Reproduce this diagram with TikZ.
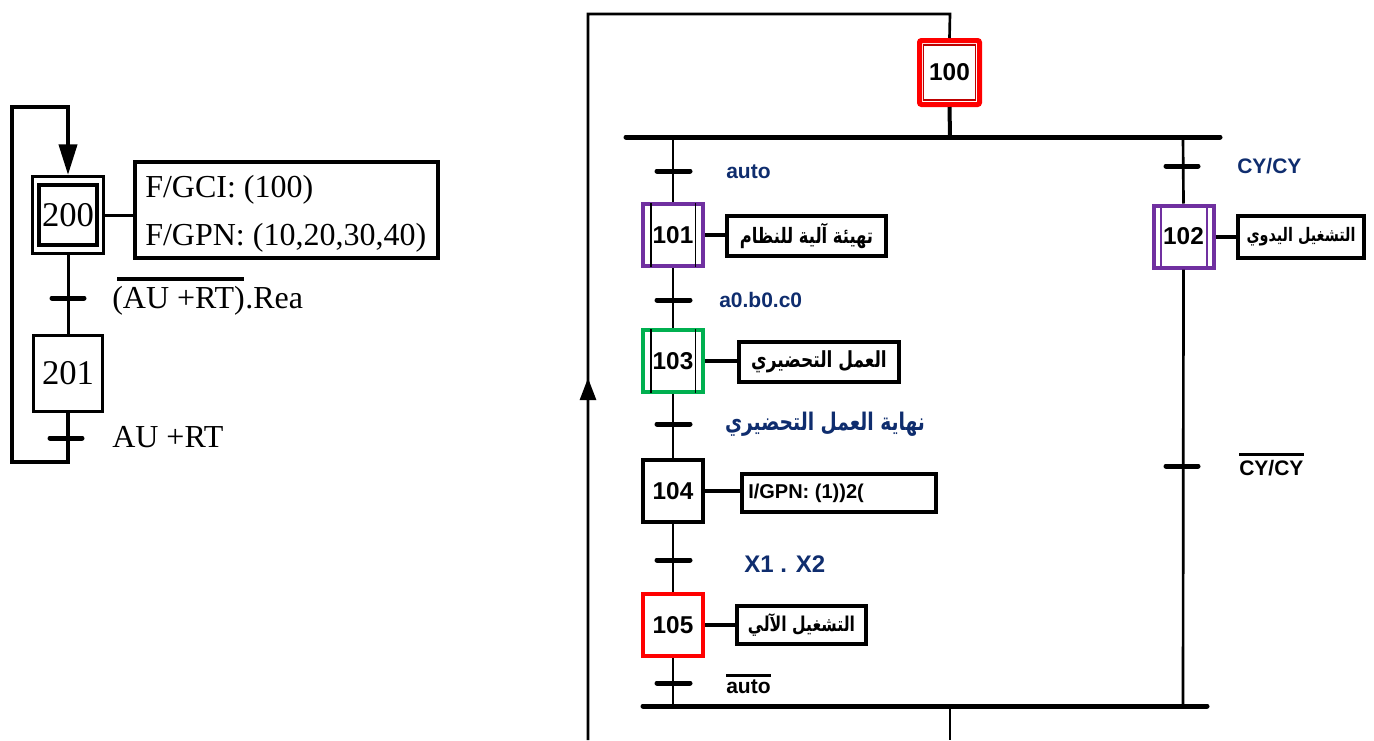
\documentclass[tikz,border=0pt]{standalone}
\usepackage{graphicx}
\usepackage{fontspec}
\setmainfont{Liberation Sans}
\newfontfamily\serifLS{Liberation Serif}
\newfontfamily\arabicfont[Script=Arabic]{DejaVu Sans}
\TeXXeTstate=1
\usetikzlibrary{arrows.meta}
\newcommand{\arTxt}[1]{\scalebox{1}[1.3]{\beginR #1\endR}}
\definecolor{navy}{RGB}{15,45,110}
\definecolor{grpurple}{RGB}{112,48,160}
\definecolor{grgreen}{RGB}{0,176,80}
\definecolor{grred}{RGB}{255,0,0}
\definecolor{darkred}{RGB}{190,0,0}
\tikzset{
  wire/.style={line width=2pt},
  tick/.style={line width=3.75pt, line cap=round},
  bar/.style={line width=3.75pt, line cap=round},
  stepbox/.style={draw, line width=3pt, minimum width=45pt, minimum height=46.5pt, inner sep=0pt,
    font=\fontsize{18.25}{20}\selectfont\bfseries},
  actbox/.style={draw, line width=3pt, inner sep=0pt},
  arlbl/.style={font=\arabicfont\bfseries\fontsize{12.75}{16}\selectfont},
  lbl/.style={text=navy, anchor=west, inner sep=0pt, font=\fontsize{15.75}{18}\selectfont\bfseries},
  serlbl/.style={font=\serifLS\fontsize{24}{28}\selectfont, inner sep=0pt},
  innerbar/.style={line width=1pt}
}
\begin{document}
\begin{tikzpicture}[x=0.75pt,y=-0.75pt]
\useasboundingbox (0,0) rectangle (1374,740);

%% ---------- left graph ----------
\node[draw, line width=2.25pt, minimum width=53.25pt, minimum height=57.75pt, inner sep=0pt] (s200) at (68,215) {};
\node[draw, line width=3pt, minimum width=43.5pt, minimum height=45pt, inner sep=0pt, serlbl, font=\serifLS\fontsize{26}{28}\selectfont] (s200i) at (68,215) {200};
\node[draw, line width=3pt, minimum width=227.25pt, minimum height=72pt, inner sep=0pt] (a200) at (286.5,210) {};
\node[serlbl, anchor=base west] (g1) at (145,197) {F/GCI: (100)};
\node[serlbl, anchor=base west] (g2) at (145,245) {F/GPN: (10,20,30,40)};
\draw[line width=2.25pt] (s200.east) -- (s200.east -| a200.west);

\node[draw, line width=2.25pt, minimum width=51.75pt, minimum height=57pt, inner sep=0pt, serlbl, font=\serifLS\fontsize{26}{28}\selectfont] (s201) at (68,373) {201};
\draw[line width=2.25pt] (s200.south) -- (s201.north);
\draw[tick] (52,298) -- (84,298);
\node[serlbl, anchor=base west] (c1a) at (112,308) {(AU +RT)};
\node[serlbl, anchor=base west] (c1b) at (c1a.base east) {.Rea};
\draw[line width=3pt] ([xshift=4pt,yshift=5pt]c1a.north west) -- ([xshift=-1pt,yshift=5pt]c1a.north east);

\draw[tick] (50,438) -- (82,438);
\node[serlbl, anchor=base west] (c2) at (112,447) {AU +RT};
\draw[line width=3pt, -{Triangle[length=23pt,width=13.5pt]}]
  (s201.south) -- (68,462) -- (12,462) -- (12,107) -- (68,107) -- (s200.north);

%% ---------- right graph ----------
\node[draw=grred, line width=3.75pt, rounded corners=1.5pt, minimum width=45pt, minimum height=48pt, inner sep=0pt] (s100) at (949.5,72.5) {};
\node[draw=darkred, line width=0.9pt, minimum width=39pt, minimum height=41.25pt, inner sep=0pt,
  font=\fontsize{18.25}{20}\selectfont\bfseries] (s100i) at (949.5,72.5) {100};
\draw[wire] (s100.north) -- (950,14) -- (588,14) -- (588,740);
\draw[line width=2pt, -{Triangle[length=16.5pt,width=12pt]}] (588,405) -- (588,378);
\draw[line width=3pt] (s100.south) -- (950,137);
\draw[bar] (626,137) -- (1220,137);

% steps
\node[stepbox, draw=grpurple] (s101) at (673,235) {101};
\node[stepbox, draw=grgreen] (s103) at (673,361) {103};
\node[stepbox] (s104) at (673,491) {104};
\node[stepbox, draw=grred] (s105) at (673,625) {105};
\node[stepbox, draw=grpurple] (s102) at (1183.5,236.5) {102};

\foreach \s in {s101,s103}{
  \draw[innerbar] ([xshift=-16.5pt,yshift=-1pt]\s.north) -- ([xshift=-16.5pt,yshift=1pt]\s.south);
  \draw[innerbar] ([xshift=17pt,yshift=-1pt]\s.north) -- ([xshift=17pt,yshift=1pt]\s.south);
}
\draw[innerbar, grpurple] ([xshift=-17pt,yshift=-1pt]s102.north) -- ([xshift=-17pt,yshift=1pt]s102.south);
\draw[innerbar, grpurple] ([xshift=17.5pt,yshift=-1pt]s102.north) -- ([xshift=17.5pt,yshift=1pt]s102.south);

\draw[wire] (673,137) -- (s101.north);
\draw[wire] (s101.south) -- (s103.north);
\draw[wire] (s103.south) -- (s104.north);
\draw[wire] (s104.south) -- (s105.north);
\draw[wire] (s105.south) -- (673,706);
\draw[wire] (1183,137) -- (s102.north);
\draw[wire] (s102.south) -- (1183,706);
\draw[bar] (643,706) -- (1207,706);
\draw[wire] (950,706) -- (950,740);

% action boxes
\node[actbox, minimum width=119.25pt, minimum height=30pt, font=\arabicfont\bfseries\fontsize{12.25}{16}\selectfont] (a101) at (806.5,236) {\arTxt{تهيئة آلية للنظام}};
\node[actbox, minimum width=120pt, minimum height=30pt, arlbl] (a103) at (819,362) {\arTxt{العمل التحضيري}};
\node[actbox, minimum width=145.5pt, minimum height=28.5pt] (a104) at (839,493) {};
\node[anchor=west, inner sep=0pt, font=\fontsize{15}{18}\selectfont\bfseries] (t104) at ([xshift=6pt]a104.west) {I/GPN: (1))2(};
\node[actbox, minimum width=96.75pt, minimum height=28.5pt, font=\arabicfont\bfseries\fontsize{11.75}{16}\selectfont] (a105) at (801.5,625) {\arTxt{التشغيل الآلي}};
\node[actbox, minimum width=94.5pt, minimum height=31.5pt, font=\arabicfont\bfseries\fontsize{10.75}{14}\selectfont] (a102) at (1301,237) {\arTxt{التشغيل اليدوي}};

\draw[line width=3pt] (s101.east) -- (s101.east -| a101.west);
\draw[line width=3pt] (s103.east) -- (s103.east -| a103.west);
\draw[line width=3pt] (s104.east) -- (s104.east -| a104.west);
\draw[line width=3pt] (s105.east) -- (s105.east -| a105.west);
\draw[line width=3pt] (s102.east) -- (s102.east -| a102.west);

% transitions
\foreach \y in {171,300,424,560,683}{ \draw[tick] (657,\y) -- (690,\y); }
\foreach \y in {166,466}{ \draw[tick] (1166,\y) -- (1198,\y); }

\node[lbl] (l1) at (726,172) {auto};
\node[lbl] (l2) at (719,300) {a0.b0.c0};
\node[text=navy, font=\arabicfont\bfseries\fontsize{14}{16}\selectfont] (l3) at (825,424) {\arTxt{نهاية العمل التحضيري}};
\node[lbl, font=\fontsize{18}{20}\selectfont\bfseries] (l4) at (744,564) {X1 . X2};
\node[lbl, text=black] (l5) at (726,687) {auto};
\draw[line width=2.25pt] ([yshift=3pt]l5.north west) -- ([yshift=3pt]l5.north east);
\node[lbl] (r1) at (1237,166) {CY/CY};
\node[lbl, text=black] (r2) at (1239,468) {CY/CY};
\draw[line width=2.25pt] ([yshift=4pt]r2.north west) -- ([yshift=4pt]r2.north east);
\end{tikzpicture}
\end{document}
